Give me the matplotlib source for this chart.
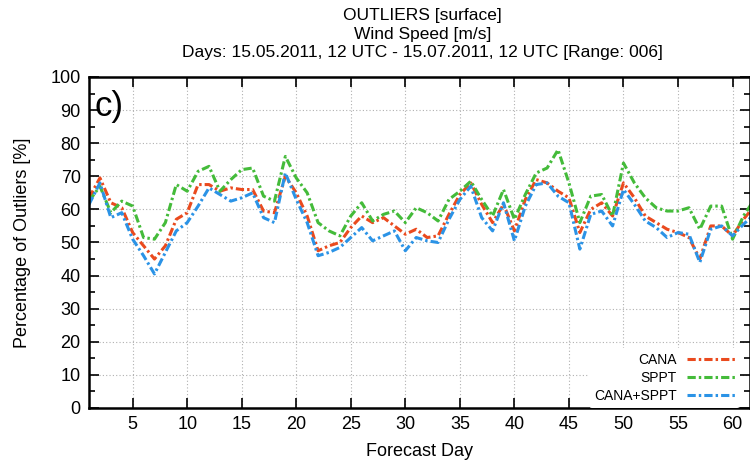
import matplotlib
matplotlib.use("Agg")
import matplotlib.pyplot as plt
from matplotlib.ticker import MultipleLocator

plt.rcParams['font.family'] = ['Liberation Sans', 'DejaVu Sans']

days = list(range(1, 63))

cana = [63.5, 69.5, 62, 60.5, 53, 49, 45, 49, 57, 59,
        67.5, 67.5, 65.5, 66.5, 66, 66, 59.5, 59, 70, 65,
        58, 47.5, 49, 50, 54.5, 58, 56, 57.5, 55, 52.5,
        54, 51.5, 52, 58.5, 64.5, 68, 61.5, 56, 61.5, 53.5,
        63, 69, 68, 65.5, 63.5, 53, 60, 62, 58, 68,
        63.5, 58, 56, 54, 53, 51.5, 45, 55, 55, 52,
        57, 61]

sppt = [62.5, 67, 59, 62.5, 61, 51.5, 51, 56, 67.5, 65.5,
        71.5, 73, 65.5, 69, 72, 72.5, 64, 62.5, 76, 69.5,
        65, 56, 53.5, 52, 58, 62, 56.5, 58.5, 59.5, 56,
        60.5, 59, 56.5, 63, 65.5, 68.5, 63, 58, 66, 57,
        64.5, 71, 72.5, 78, 68, 56, 64, 64.5, 58, 74,
        68, 63.5, 60.5, 59.5, 59.5, 60.5, 54, 61, 61, 51,
        58, 63]

cana_sppt = [61.5, 68, 57.5, 59, 51, 46, 40.5, 47, 53.5, 56,
             61, 66.5, 64.5, 62.5, 63.5, 65, 57.5, 56, 71, 63,
             56, 46, 47, 48.5, 51.5, 54.5, 50.5, 52, 53.5, 47.5,
             51.5, 50.5, 50, 57, 63, 67, 57.5, 53.5, 62, 50.5,
             61, 67.5, 68, 64, 62, 48, 58.5, 59.5, 55, 66,
             61.5, 56.5, 54.5, 51.5, 53, 52.5, 44, 54, 55, 52,
             55.5, 58.5]

series = [("CANA", cana, "#ea4a1e"),
          ("SPPT", sppt, "#44bb3a"),
          ("CANA+SPPT", cana_sppt, "#2b93e6")]

fig = plt.figure(figsize=(7.5, 4.61), dpi=100)
ax = fig.add_axes([0.1187, 0.115, 0.8813, 0.718])

dash = (0, (2.7, 1.0, 0.8, 1.0))
for name, vals, col in series:
    ax.plot(days, vals, color=col, lw=2.2, linestyle=dash, label=name)

ax.set_xlim(1, 61.6)
ax.set_ylim(0, 100)
ax.xaxis.set_major_locator(MultipleLocator(5))
ax.yaxis.set_major_locator(MultipleLocator(10))
ax.yaxis.set_minor_locator(MultipleLocator(5))
ax.tick_params(which='both', direction='in', top=True, right=True,
               labelsize=13, width=1.2)
ax.tick_params(which='major', length=7)
ax.tick_params(which='minor', length=4)
ax.tick_params(axis='x', pad=6)
ax.tick_params(axis='y', pad=6)
ax.grid(True, color='#b0b0b0', linestyle=(0, (1, 2)), linewidth=0.8)
for s in ax.spines.values():
    s.set_linewidth(1.8)

ax.set_xlabel("Forecast Day", fontsize=13, labelpad=7)
ax.set_ylabel("Percentage of Outliers [%]", fontsize=13, labelpad=14)
ax.text(0.008, 0.96, "c)", transform=ax.transAxes, fontsize=25,
        va='top', ha='left')

fig.text(0.563, 0.982, "OUTLIERS [surface]\nWind Speed [m/s]\n"
         "Days: 15.05.2011, 12 UTC - 15.07.2011, 12 UTC [Range: 006]",
         ha='center', va='top', fontsize=12.5, linespacing=1.3)

leg = ax.legend(loc='lower right', bbox_to_anchor=(0.985, 0.0),
                borderaxespad=0, frameon=True, fontsize=10, markerfirst=False,
                handlelength=3.5, borderpad=0.35, labelspacing=0.28,
                handletextpad=0.7)
leg.get_frame().set_facecolor('white')
leg.get_frame().set_edgecolor('none')
leg.get_frame().set_alpha(1)

fig.savefig("out.png", dpi=100)
